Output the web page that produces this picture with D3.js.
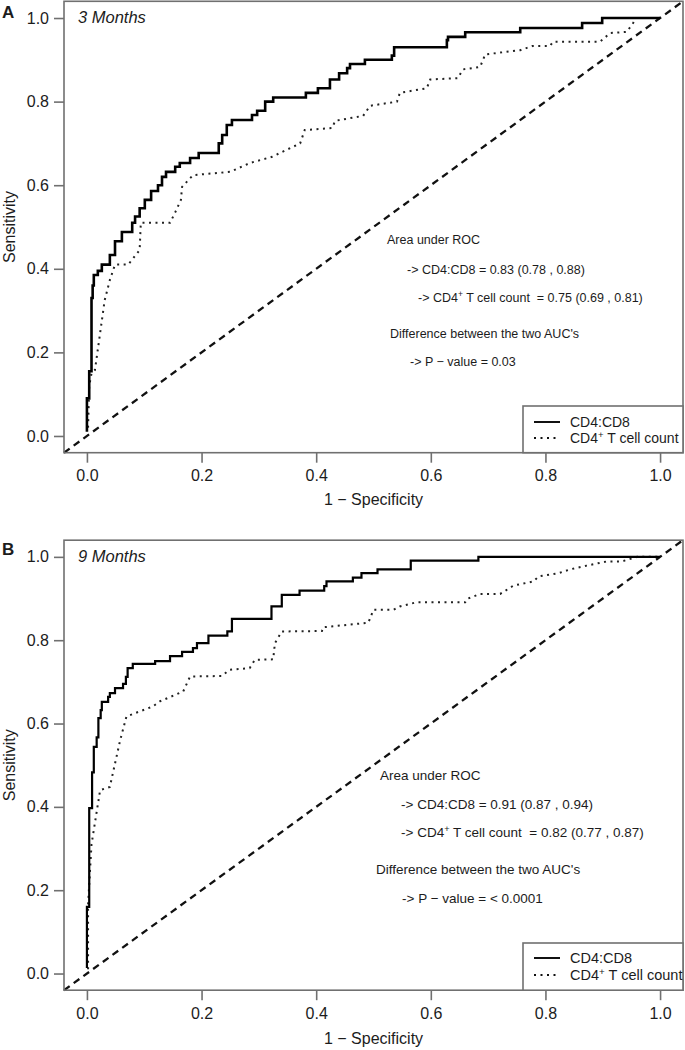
<!DOCTYPE html>
<meta charset="utf-8">
<style>
  body { margin: 0; background: #fff; }
  svg text { font-family: "Liberation Sans", Arial, Helvetica, sans-serif; fill: #1c1c1c; }
</style>
<script src="https://cdn.jsdelivr.net/npm/d3@7"></script>
<body>
<script>
// axis ticks, shared by both panels
var tickVals = [0, 0.2, 0.4, 0.6, 0.8, 1.0];

// 3 months: CD4:CD8 ratio (1 - specificity / sensitivity)
var ratio3Fpr = [0, 0, 0.004, 0.008, 0.010, 0.012, 0.019, 0.026, 0.040, 0.049, 0.061, 0.079, 0.084, 0.092, 0.101,
  0.112, 0.124, 0.131, 0.138, 0.154, 0.162, 0.180, 0.195, 0.230, 0.236, 0.244, 0.253, 0.288, 0.297, 0.311,
  0.325, 0.382, 0.403, 0.424, 0.440, 0.454, 0.459, 0.485, 0.532, 0.536, 0.628, 0.630, 0.660, 0.756, 0.864,
  0.899, 1.0];
var ratio3Tpr = [0.01, 0.09, 0.155, 0.33, 0.36, 0.385, 0.395, 0.41, 0.433, 0.466, 0.488, 0.51, 0.525, 0.545, 0.565,
  0.586, 0.60, 0.62, 0.632, 0.644, 0.653, 0.665, 0.677, 0.70, 0.72, 0.744, 0.756, 0.768, 0.778, 0.80,
  0.81, 0.821, 0.832, 0.853, 0.868, 0.88, 0.89, 0.90, 0.91, 0.93, 0.947, 0.955, 0.966, 0.976, 0.988,
  1.0, 1.0];

// 3 months: CD4+ T cell count
var cd43Fpr = [0.002, 0.004, 0.008, 0.014, 0.023, 0.031, 0.040, 0.049, 0.072, 0.092, 0.094, 0.145, 0.154, 0.164,
  0.166, 0.185, 0.250, 0.284, 0.323, 0.372, 0.380, 0.428, 0.433, 0.482, 0.494, 0.541, 0.546, 0.593, 0.599,
  0.647, 0.656, 0.686, 0.695, 0.756, 0.777, 0.808, 0.813, 0.895, 0.913, 0.942, 0.953, 0.958, 1.0];
var cd43Tpr = [0.02, 0.12, 0.150, 0.158, 0.246, 0.325, 0.373, 0.41, 0.41, 0.445, 0.51, 0.51, 0.535, 0.565,
  0.596, 0.624, 0.632, 0.653, 0.668, 0.70, 0.732, 0.737, 0.754, 0.766, 0.79, 0.80, 0.821, 0.832, 0.853,
  0.856, 0.877, 0.883, 0.913, 0.923, 0.933, 0.933, 0.943, 0.943, 0.964, 0.967, 0.988, 1.0, 1.0];

// 9 months: CD4:CD8 ratio
var ratio9Fpr = [0, 0, 0.004, 0.009, 0.012, 0.017, 0.020, 0.024, 0.026, 0.037, 0.040, 0.049, 0.063, 0.068, 0.071,
  0.080, 0.119, 0.145, 0.166, 0.185, 0.192, 0.212, 0.245, 0.253, 0.322, 0.340, 0.371, 0.414, 0.418, 0.464,
  0.479, 0.507, 0.565, 0.683, 1.0];
var ratio9Tpr = [0.013, 0.16, 0.397, 0.483, 0.544, 0.567, 0.613, 0.632, 0.652, 0.664, 0.673, 0.685, 0.695, 0.712, 0.733,
  0.743, 0.75, 0.762, 0.772, 0.781, 0.793, 0.811, 0.821, 0.851, 0.881, 0.909, 0.919, 0.930, 0.941, 0.950,
  0.961, 0.970, 0.991, 1.0, 1.0];

// 9 months: CD4+ T cell count
var cd49Fpr = [0.002, 0.002, 0.008, 0.023, 0.040, 0.058, 0.069, 0.092, 0.115, 0.127, 0.168, 0.180, 0.235, 0.249,
  0.284, 0.293, 0.325, 0.328, 0.340, 0.410, 0.412, 0.491, 0.500, 0.535, 0.546, 0.575, 0.660, 0.663, 0.686,
  0.721, 0.744, 0.779, 0.788, 0.823, 0.843, 0.872, 0.907, 0.933, 0.96, 1.0];
var cd49Tpr = [0.01, 0.165, 0.31, 0.44, 0.448, 0.56, 0.617, 0.629, 0.641, 0.653, 0.677, 0.713, 0.714, 0.729,
  0.733, 0.753, 0.754, 0.793, 0.821, 0.822, 0.831, 0.842, 0.873, 0.873, 0.881, 0.891, 0.891, 0.899, 0.911,
  0.911, 0.931, 0.941, 0.953, 0.961, 0.970, 0.979, 0.989, 0.989, 1.0, 1.0];

var legendLabels = ["CD4:CD8", "CD4^+ T cell count"];
var auc3Text = ["Area under ROC", "-> CD4:CD8 = 0.83 (0.78 , 0.88)", "-> CD4^+ T cell count  = 0.75 (0.69 , 0.81)",
  "Difference between the two AUC's", "-> P \u2212 value = 0.03"];
var auc9Text = ["Area under ROC", "-> CD4:CD8 = 0.91 (0.87 , 0.94)", "-> CD4^+ T cell count  = 0.82 (0.77 , 0.87)",
  "Difference between the two AUC's", "-> P \u2212 value = < 0.0001"];

var svg = d3.select("body").append("svg")
    .attr("width", 685)
    .attr("height", 1050);

var boxCol = "#707070";

// writes a string, turning "^+" into a superscript plus
function supText(sel, s) {
    var parts = s.split("^+");
    sel.append("tspan").text(parts[0]);
    if (parts.length > 1) {
        sel.append("tspan").text("+").attr("font-size", "0.68em").attr("dy", -5);
        sel.append("tspan").text(parts[1]).attr("dy", 5);
    }
}

function drawPanel(p) {
    var x = d3.scaleLinear().domain([-0.04, 1.04]).range([64, 683]);
    var y = d3.scaleLinear().domain([-0.04, 1.04]).range([p.bottom, p.top]);
    var g = svg.append("g");

    //chance diagonal
    g.append("line")
        .attr("x1", x(-0.04)).attr("y1", y(-0.04))
        .attr("x2", x(1.04)).attr("y2", y(1.04))
        .attr("stroke", "#111")
        .attr("stroke-width", 2.3)
        .attr("stroke-dasharray", "7,5");

    var lin = d3.line().x(function(d) { return x(d[0]); }).y(function(d) { return y(d[1]); });
    var step = d3.line().x(function(d) { return x(d[0]); }).y(function(d) { return y(d[1]); })
        .curve(d3.curveStepAfter);

    g.append("path")
        .datum(d3.zip(p.cd4Fpr, p.cd4Tpr))
        .attr("d", lin)
        .attr("fill", "none")
        .attr("stroke", "#222")
        .attr("stroke-width", 2)
        .attr("stroke-dasharray", "2,4.5");

    g.append("path")
        .datum(d3.zip(p.ratioFpr, p.ratioTpr))
        .attr("d", step)
        .attr("fill", "none")
        .attr("stroke", "#000")
        .attr("stroke-width", p.lw);

    //plot box
    g.append("rect")
        .attr("x", x(-0.04)).attr("y", y(1.04))
        .attr("width", x(1.04) - x(-0.04))
        .attr("height", y(-0.04) - y(1.04))
        .attr("fill", "none")
        .attr("stroke", boxCol)
        .attr("stroke-width", 1.6);

    //axes
    var yAxis = g.append("g")
        .attr("transform", "translate(" + x(-0.04) + ",0)")
        .call(d3.axisLeft(y).tickValues(tickVals).tickFormat(d3.format(".1f")).tickSize(10).tickPadding(5));
    var xAxis = g.append("g")
        .attr("transform", "translate(0," + y(-0.04) + ")")
        .call(d3.axisBottom(x).tickValues(tickVals).tickFormat(d3.format(".1f")).tickSize(10).tickPadding(7));
    [xAxis, yAxis].forEach(function(a) {
        a.select(".domain").remove();
        a.selectAll("line").attr("stroke", boxCol).attr("stroke-width", 1.6);
        a.selectAll("text").attr("font-size", 16).attr("fill", "#1c1c1c")
            .attr("font-family", "Liberation Sans, Arial, sans-serif");
    });

    g.append("text")
        .attr("x", 373.5).attr("y", p.xTitleY)
        .attr("text-anchor", "middle")
        .attr("font-size", 16)
        .text("1 \u2212 Specificity");

    g.append("text")
        .attr("transform", "translate(15," + (y(0.5)) + ") rotate(-90)")
        .attr("text-anchor", "middle")
        .attr("font-size", 16)
        .text("Sensitivity");

    //panel letter and title
    g.append("text")
        .attr("x", 2).attr("y", p.letterY)
        .attr("font-size", 17).attr("font-weight", "bold")
        .text(p.letter);
    g.append("text")
        .attr("x", 78).attr("y", p.titleY)
        .attr("font-size", 16.5).attr("font-style", "italic")
        .text(p.title);

    //AUC notes
    p.notes.forEach(function(s, i) {
        var t = g.append("text")
            .attr("x", p.noteX[i]).attr("y", p.noteY[i])
            .attr("dy", "0.35em")
            .attr("font-size", p.noteSize)
            .style("white-space", "pre");
        supText(t, s);
    });

    //legend
    var lg = g.append("g");
    lg.append("rect")
        .attr("x", 523).attr("y", p.legTop)
        .attr("width", x(1.04) - 523)
        .attr("height", y(-0.04) - p.legTop)
        .attr("fill", "#fff")
        .attr("stroke", boxCol)
        .attr("stroke-width", 1.6);
    legendLabels.forEach(function(s, i) {
        var ly = p.legY[i];
        lg.append("line")
            .attr("x1", 534).attr("x2", 560).attr("y1", ly).attr("y2", ly)
            .attr("stroke", "#111")
            .attr("stroke-width", i == 0 ? 2 : 2)
            .attr("stroke-dasharray", i == 0 ? null : "2,4.5");
        var t = lg.append("text")
            .attr("x", 570).attr("y", ly)
            .attr("dy", "0.35em")
            .attr("font-size", p.legSize);
        supText(t, s);
    });
}

drawPanel({
    top: 1.3, bottom: 452.7, lw: 2.6,
    ratioFpr: ratio3Fpr, ratioTpr: ratio3Tpr, cd4Fpr: cd43Fpr, cd4Tpr: cd43Tpr,
    xTitleY: 505, letter: "A", letterY: 18, title: "3 Months", titleY: 23,
    notes: auc3Text, noteSize: 12.5,
    noteX: [387, 407, 418, 390, 410], noteY: [240, 270, 298, 334, 362],
    legTop: 406, legY: [422, 438], legSize: 14
});

drawPanel({
    top: 540.2, bottom: 990.2, lw: 2.2,
    ratioFpr: ratio9Fpr, ratioTpr: ratio9Tpr, cd4Fpr: cd49Fpr, cd4Tpr: cd49Tpr,
    xTitleY: 1044, letter: "B", letterY: 555, title: "9 Months", titleY: 562,
    notes: auc9Text, noteSize: 13.5,
    noteX: [380, 401, 401, 376, 402], noteY: [775, 804, 832, 869, 898],
    legTop: 943, legY: [958, 975], legSize: 14.5
});
</script>
</body>
